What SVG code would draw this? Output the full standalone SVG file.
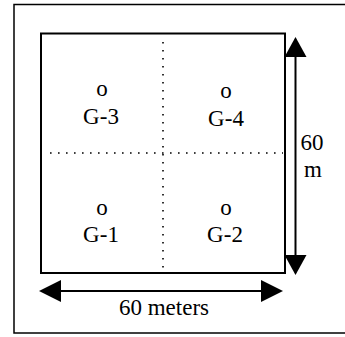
<svg xmlns="http://www.w3.org/2000/svg" width="345" height="337" viewBox="0 0 345 337">
<style>
text{font-family:"Liberation Serif","Times New Roman",serif;font-size:23px;fill:#000;text-anchor:middle}
.dot{stroke:#000;stroke-width:1.6;stroke-dasharray:1.6 6.4;fill:none}
.shaft{stroke:#000;stroke-width:2;fill:none}
</style>
<rect width="345" height="337" fill="#fff"/>
<rect id="frame" x="14" y="4.5" width="340" height="328.5" fill="none" stroke="#000" stroke-width="1.5"/>
<g id="plot">
<rect x="41" y="33.5" width="244" height="239.5" fill="none" stroke="#000" stroke-width="2"/>
<line class="dot" x1="163" y1="42" x2="163" y2="272"/>
<line class="dot" x1="50" y1="153" x2="283" y2="153"/>
</g>
<g id="G-3"><text x="102" y="96">o</text><text x="101" y="124">G-3</text></g>
<g id="G-4"><text x="226" y="98">o</text><text x="226" y="126">G-4</text></g>
<g id="G-1"><text x="102" y="215">o</text><text x="101" y="242">G-1</text></g>
<g id="G-2"><text x="226" y="215">o</text><text x="225" y="242">G-2</text></g>
<g id="connectors">
<line class="shaft" x1="295.5" y1="55" x2="295.5" y2="257"/>
<polygon points="295.5,37 306.5,57 284.5,57"/>
<polygon points="295.5,275 306.5,255 284.5,255"/>
<line class="shaft" x1="58" y1="291" x2="265" y2="291"/>
<polygon points="39,291 61,280 61,302"/>
<polygon points="283,291 261,280 261,302"/>
</g>
<g id="labels">
<text x="312" y="150">60</text>
<text x="313" y="177">m</text>
<text x="164" y="315">60 meters</text>
</g>
</svg>
